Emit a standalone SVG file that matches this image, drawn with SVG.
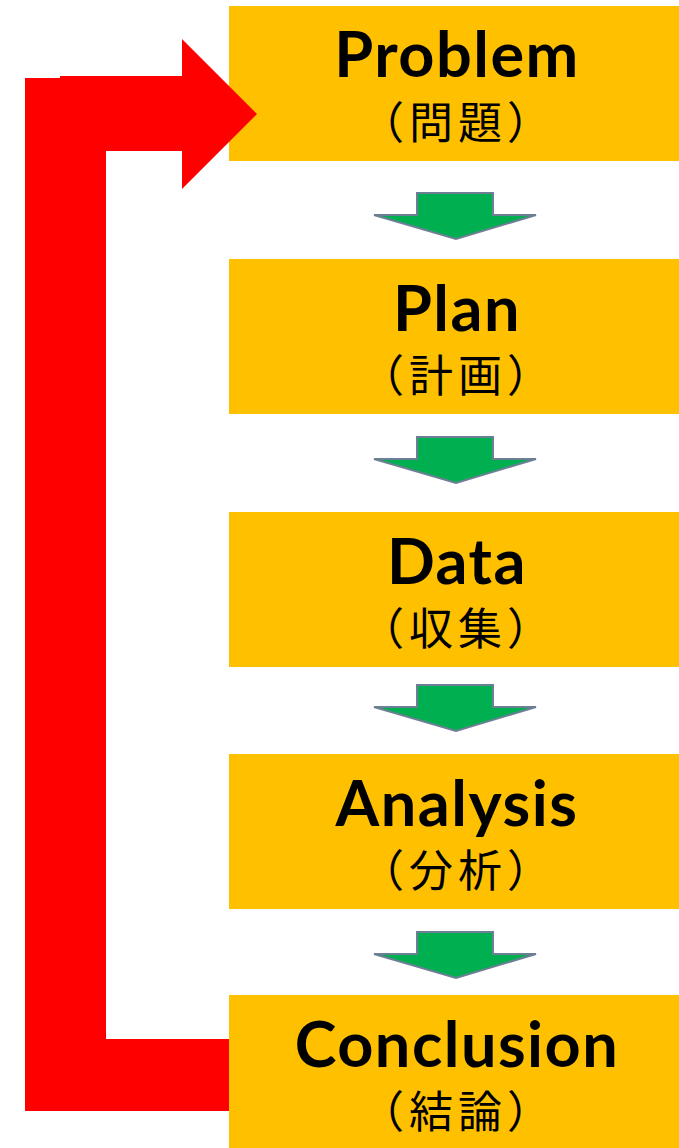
<svg xmlns="http://www.w3.org/2000/svg" width="679" height="1148" viewBox="0 0 679 1148">
<style>
.box{fill:#ffc000}
.en{font-family:Lato,"Open Sans","Liberation Sans",sans-serif;font-weight:700;font-size:63px;letter-spacing:1.5px;fill:#000;text-anchor:middle}
.jp{font-family:"Noto Sans CJK JP","Noto Sans CJK SC",sans-serif;font-weight:400;font-size:44px;letter-spacing:5px;fill:#000;text-anchor:middle}
.down{fill:#00b050;stroke:#6c7f94;stroke-width:2;stroke-linejoin:miter}
.red{fill:#ff0000}
</style>
<defs>
<polygon id="dn" class="down" points="417,0 493,0 493,22 536,22 456,46 374,22 417,22"/>
</defs>
<rect width="679" height="1148" fill="#fff"/>
<g id="node-problem">
<rect class="box" x="229" y="6" width="450" height="155"/>
<text class="en" x="457" y="77">Problem</text>
<text class="jp" x="458" y="139">（問題）</text>
</g>
<g id="node-plan">
<rect class="box" x="229" y="259" width="450" height="155"/>
<text class="en" x="457" y="331">Plan</text>
<text class="jp" x="458" y="392">（計画）</text>
</g>
<g id="node-data">
<rect class="box" x="229" y="512" width="450" height="155"/>
<text class="en" x="457" y="584">Data</text>
<text class="jp" x="458" y="645">（収集）</text>
</g>
<g id="node-analysis">
<rect class="box" x="229" y="754" width="450" height="155"/>
<text class="en" x="457" y="826">Analysis</text>
<text class="jp" x="458" y="887">（分析）</text>
</g>
<g id="node-conclusion">
<rect class="box" x="229" y="995" width="450" height="153"/>
<text class="en" x="457" y="1067">Conclusion</text>
<text class="jp" x="458" y="1128">（結論）</text>
</g>
<g id="connectors">
<use href="#dn" y="193"/>
<use href="#dn" y="437"/>
<use href="#dn" y="685"/>
<use href="#dn" y="932"/>
<rect class="red" x="25" y="78" width="81" height="1033"/>
<rect class="red" x="25" y="1039" width="204" height="72"/>
<polygon class="red" points="60,76 182,76 182,39 257,114 182,189 182,151 60,151"/>
</g>
</svg>
